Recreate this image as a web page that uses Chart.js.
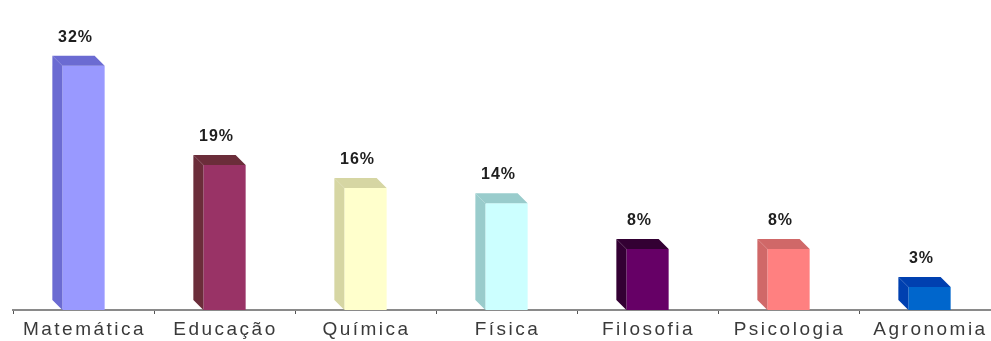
<!DOCTYPE html>
<html>
<head>
<meta charset="utf-8">
<script src="https://cdn.jsdelivr.net/npm/chart.js@4/dist/chart.umd.min.js"></script>
<style>
  html, body { margin: 0; padding: 0; background: #fff; overflow: hidden; }
  #wrap { position: relative; width: 1000px; height: 341px; }
</style>
</head>
<body>
<div id="wrap"><canvas id="chart"></canvas></div>
<script>
// Share of students by course (%)
const categories = ['Matemática', 'Educação', 'Química', 'Física', 'Filosofia', 'Psicologia', 'Agronomia'];
const values = [32, 19, 16, 14, 8, 8, 3];
const frontColors = ['#9999ff', '#993366', '#ffffcc', '#ccffff', '#660066', '#ff8080', '#0066cc'];
const sideColors  = ['#6b6bd2', '#6b2d3a', '#d6d6a3', '#99cccc', '#330033', '#d06868', '#0040b0'];

const DEPTH = 10;

// Draws the side and top faces of each bar plus its value label
const bars3d = {
  id: 'bars3d',
  afterDatasetsDraw(chart) {
    const ctx = chart.ctx;
    const meta = chart.getDatasetMeta(0);
    meta.data.forEach((el, i) => {
      const p = el.getProps(['x', 'y', 'base', 'width'], true);
      const left = p.x - p.width / 2;
      const right = p.x + p.width / 2;
      ctx.save();
      ctx.fillStyle = sideColors[i];
      // left face
      ctx.beginPath();
      ctx.moveTo(left, p.y);
      ctx.lineTo(left - DEPTH, p.y - DEPTH);
      ctx.lineTo(left - DEPTH, p.base - DEPTH);
      ctx.lineTo(left, p.base);
      ctx.closePath();
      ctx.fill();
      // top face
      ctx.beginPath();
      ctx.moveTo(left, p.y);
      ctx.lineTo(left - DEPTH, p.y - DEPTH);
      ctx.lineTo(right - DEPTH, p.y - DEPTH);
      ctx.lineTo(right, p.y);
      ctx.closePath();
      ctx.fill();
      // value label
      ctx.fillStyle = '#1e1e1e';
      ctx.font = 'bold 16px "Liberation Sans", Arial, sans-serif';
      ctx.letterSpacing = '1px';
      ctx.textAlign = 'center';
      ctx.textBaseline = 'alphabetic';
      ctx.fillText(values[i] + '%', p.x - 8, p.y - DEPTH - 14);
      ctx.restore();
    });
  },
  afterDraw(chart) {
    // category labels, spaced out
    const ctx = chart.ctx;
    const xs = chart.scales.x;
    ctx.save();
    ctx.fillStyle = '#3a3a3a';
    ctx.font = '19px "Liberation Sans", Arial, sans-serif';
    ctx.letterSpacing = '2.5px';
    ctx.textAlign = 'center';
    ctx.textBaseline = 'alphabetic';
    categories.forEach((c, i) => {
      ctx.fillText(c, xs.getPixelForValue(i) + 1, 335);
    });
    ctx.restore();
  }
};

new Chart(document.getElementById('chart'), {
  type: 'bar',
  data: {
    labels: categories,
    datasets: [{
      data: values,
      backgroundColor: frontColors,
      borderWidth: 0,
      categoryPercentage: 1,
      barPercentage: 0.3
    }]
  },
  options: {
    responsive: true,
    maintainAspectRatio: false,
    animation: false,
    layout: { padding: { top: 20, left: 13, right: 0, bottom: 0 } },
    plugins: { legend: { display: false }, tooltip: { enabled: false } },
    scales: {
      x: {
        offset: true,
        ticks: { display: false },
        grid: { offset: true, drawOnChartArea: false, drawTicks: true, tickLength: 4, color: '#555', lineWidth: 1 },
        border: { display: true, color: '#8a8a8a', width: 2 },
        afterFit(scale) { scale.height = 31; }
      },
      y: {
        display: false,
        min: 0,
        max: 38
      }
    }
  },
  plugins: [bars3d]
});
</script>
</body>
</html>
